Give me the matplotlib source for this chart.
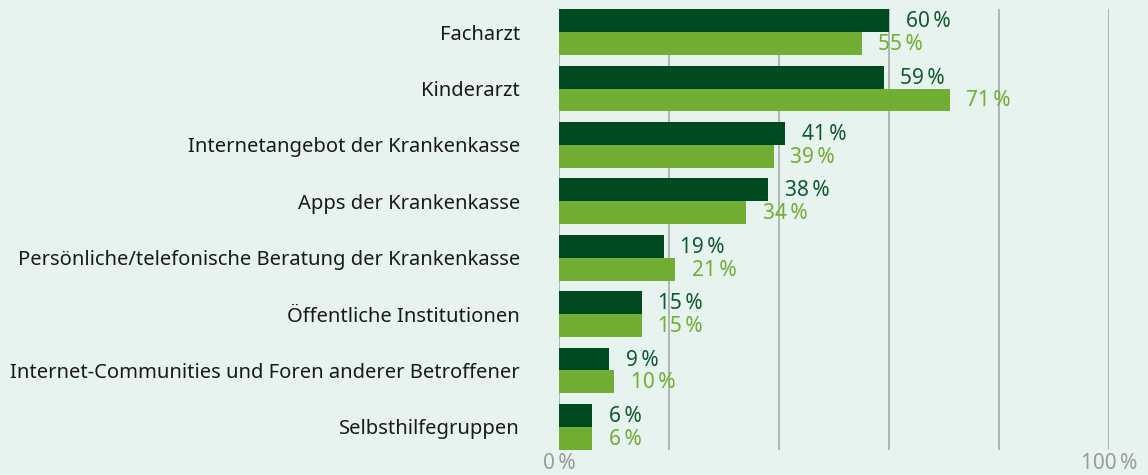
import matplotlib
matplotlib.use("Agg")
import matplotlib.pyplot as plt
import numpy as np

categories = [
    "Facharzt",
    "Kinderarzt",
    "Internetangebot der Krankenkasse",
    "Apps der Krankenkasse",
    "Persönliche/telefonische Beratung der Krankenkasse",
    "Öffentliche Institutionen",
    "Internet-Communities und Foren anderer Betroffener",
    "Selbsthilfegruppen",
]
series_dark = [60, 59, 41, 38, 19, 15, 9, 6]
series_light = [55, 71, 39, 34, 21, 15, 10, 6]
x_ticks = [0, 20, 40, 60, 80, 100]
x_tick_labels = ["0\u2009%", "", "", "", "", "100\u2009%"]

BG = "#e6f3ee"
DARK = "#004a22"
LIGHT = "#72ae33"
DARK_TXT = "#11592f"
GRID = "#a8aaa9"
FONT = ["Noto Sans", "DejaVu Sans"]

plt.rcParams["font.family"] = FONT

fig = plt.figure(figsize=(11.48, 4.75), dpi=100, facecolor=BG)
ax = fig.add_axes([559 / 1148, 25 / 475, 550 / 1148, 441 / 475])
ax.set_facecolor(BG)

y = np.arange(len(categories))
h = 0.407
ax.barh(y - h / 2, series_dark, height=h, color=DARK, zorder=3)
ax.barh(y + h / 2, series_light, height=h, color=LIGHT, zorder=3)

VAL_FS = 15
for yi, v in zip(y, series_dark):
    ax.annotate(f"{v}\u2009%", (v, yi - h / 2), xytext=(17, -1), textcoords="offset pixels",
                va="center", ha="left", fontsize=VAL_FS, color=DARK_TXT, annotation_clip=False)
for yi, v in zip(y, series_light):
    ax.annotate(f"{v}\u2009%", (v, yi + h / 2), xytext=(17, -1), textcoords="offset pixels",
                va="center", ha="left", fontsize=VAL_FS, color=LIGHT, annotation_clip=False)

ax.set_xlim(0, 100)
ax.set_ylim(len(categories) - 1 + 0.41, -0.41)
ax.set_xticks(x_ticks)
ax.set_xticklabels(x_tick_labels, color="#9b9b9b", fontsize=VAL_FS)
ax.set_yticks(y)
ax.set_yticklabels(categories, fontsize=14.5, color="#1a1a1a")
ax.tick_params(axis="both", length=0)
ax.tick_params(axis="y", pad=28)
ax.tick_params(axis="x", pad=2)
ax.xaxis.grid(True, color=GRID, linewidth=1.2, zorder=1)
for s in ax.spines.values():
    s.set_visible(False)

fig.savefig("out.png", dpi=100, facecolor=BG)
